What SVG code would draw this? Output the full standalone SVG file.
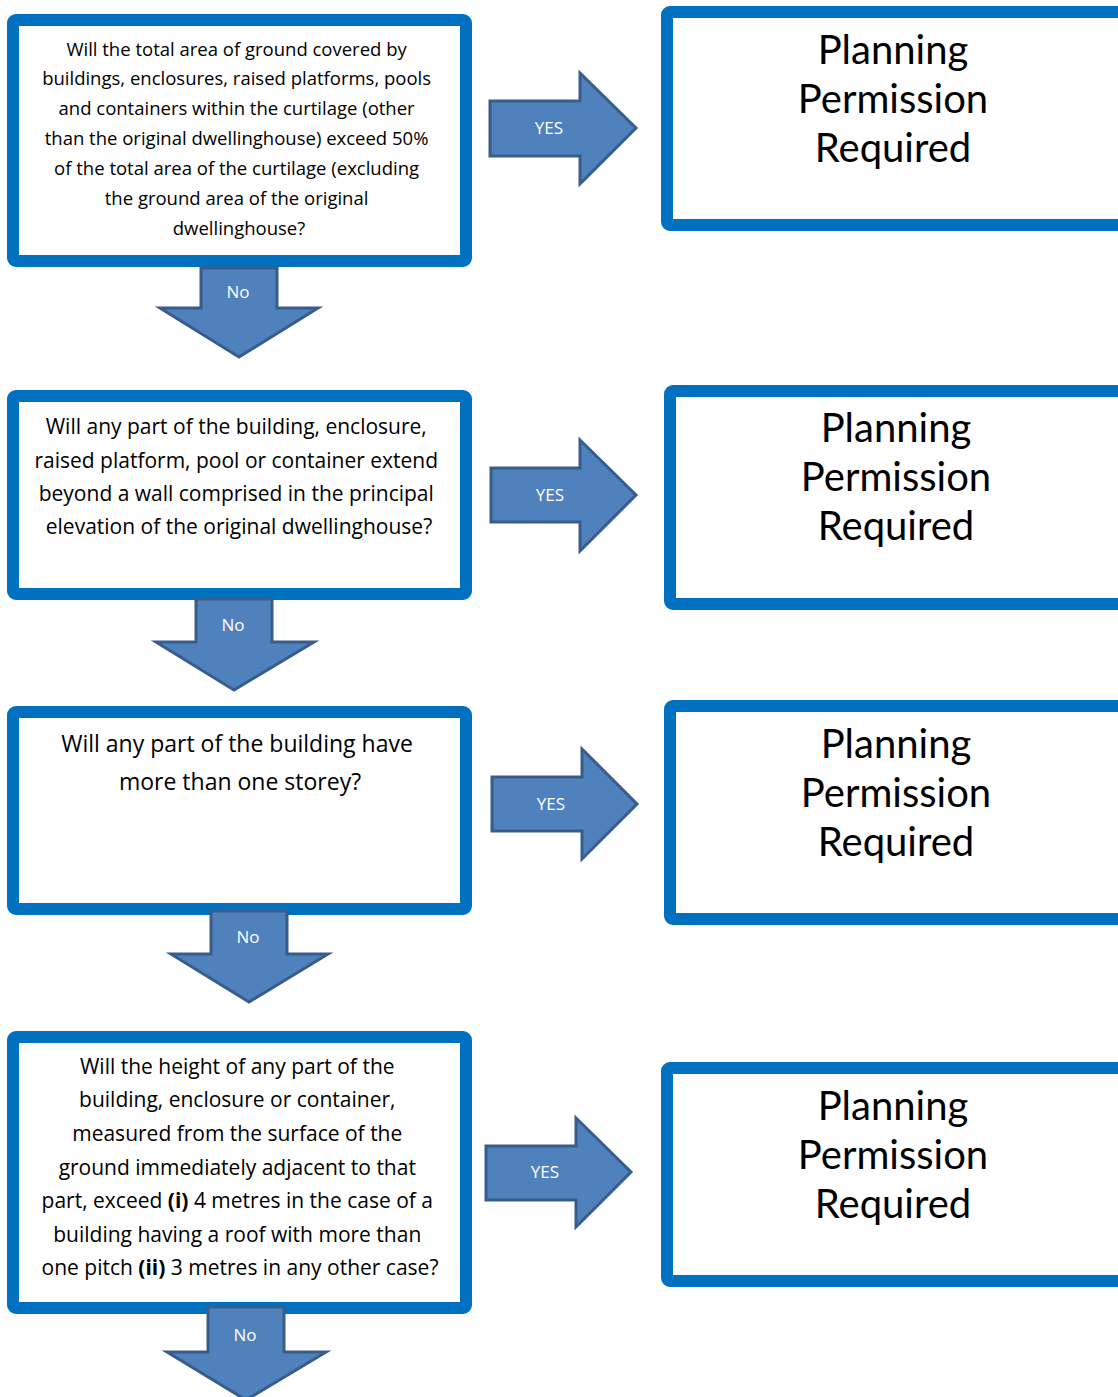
<svg xmlns="http://www.w3.org/2000/svg" width="1118" height="1397" viewBox="0 0 1118 1397">
  <style>
    .q { fill: #ffffff; stroke: #0070C0; stroke-width: 12; }
    .qt { font-family: "Open Sans", "Liberation Sans", sans-serif; fill: #000000; text-anchor: middle; }
    .rt { font-family: Lato, "Liberation Sans", sans-serif; font-size: 40px; fill: #000000; text-anchor: middle; }
    .arr { fill: #4F81BD; stroke: #385D8A; stroke-width: 3; stroke-linejoin: miter; }
    .lbl { font-family: "Open Sans", "Liberation Sans", sans-serif; font-size: 17px; fill: #ffffff; text-anchor: middle; }
    .b { font-weight: bold; }
  </style>
  <rect width="1118" height="1397" fill="#ffffff"/>

  <!-- question 1 -->
  <g id="q1">
    <rect class="q" x="13" y="20" width="453" height="241" rx="3"/>
    <text class="qt" font-size="18.5">
      <tspan x="239" y="56">Will the total area of ground covered by</tspan>
      <tspan x="239" y="85">buildings, enclosures, raised platforms, pools</tspan>
      <tspan x="239" y="115">and containers within the curtilage (other</tspan>
      <tspan x="239" y="145">than the original dwellinghouse) exceed 50%</tspan>
      <tspan x="239" y="175">of the total area of the curtilage (excluding</tspan>
      <tspan x="239" y="205">the ground area of the original</tspan>
      <tspan x="239" y="235">dwellinghouse?</tspan>
    </text>
  </g>
  <g id="r1">
    <rect class="q" x="667" y="12" width="460" height="213" rx="3"/>
    <text class="rt"><tspan x="893" y="64">Planning</tspan><tspan x="893" y="113">Permission</tspan><tspan x="893" y="162">Required</tspan></text>
  </g>

  <!-- question 2 -->
  <g id="q2">
    <rect class="q" x="13" y="396" width="453" height="198" rx="3"/>
    <text class="qt" font-size="21">
      <tspan x="239" y="434">Will any part of the building, enclosure,</tspan>
      <tspan x="239" y="468">raised platform, pool or container extend</tspan>
      <tspan x="239" y="501">beyond a wall comprised in the principal</tspan>
      <tspan x="239" y="534">elevation of the original dwellinghouse?</tspan>
    </text>
  </g>
  <g id="r2">
    <rect class="q" x="670" y="391" width="460" height="213" rx="3"/>
    <text class="rt"><tspan x="896" y="442">Planning</tspan><tspan x="896" y="491">Permission</tspan><tspan x="896" y="540">Required</tspan></text>
  </g>

  <!-- question 3 -->
  <g id="q3">
    <rect class="q" x="13" y="712" width="453" height="197" rx="3"/>
    <text class="qt" font-size="23">
      <tspan x="240" y="752">Will any part of the building have</tspan>
      <tspan x="240" y="790">more than one storey?</tspan>
    </text>
  </g>
  <g id="r3">
    <rect class="q" x="670" y="706" width="460" height="213" rx="3"/>
    <text class="rt"><tspan x="896" y="758">Planning</tspan><tspan x="896" y="807">Permission</tspan><tspan x="896" y="856">Required</tspan></text>
  </g>

  <!-- question 4 -->
  <g id="q4">
    <rect class="q" x="13" y="1037" width="453" height="271" rx="3"/>
    <text class="qt" font-size="21">
      <tspan x="240" y="1074">Will the height of any part of the</tspan>
      <tspan x="240" y="1107">building, enclosure or container,</tspan>
      <tspan x="240" y="1141">measured from the surface of the</tspan>
      <tspan x="240" y="1175">ground immediately adjacent to that</tspan>
      <tspan x="240" y="1208">part, exceed <tspan class="b">(i)</tspan> 4 metres in the case of a</tspan>
      <tspan x="240" y="1242">building having a roof with more than</tspan>
      <tspan x="240" y="1275">one pitch <tspan class="b">(ii)</tspan> 3 metres in any other case?</tspan>
    </text>
  </g>
  <g id="r4">
    <rect class="q" x="667" y="1068" width="460" height="213" rx="3"/>
    <text class="rt"><tspan x="893" y="1120">Planning</tspan><tspan x="893" y="1169">Permission</tspan><tspan x="893" y="1218">Required</tspan></text>
  </g>

  <!-- block arrows: YES to the right, No downward -->
  <g id="connectors">
    <path class="arr" d="M490,101 H580 V73 L636,128 L580,184 V156 H490 Z"/>
    <text class="lbl" x="549" y="134">YES</text>
    <path class="arr" d="M201,268 H277 V308 H318 L239,357 L160,308 H201 Z"/>
    <text class="lbl" x="238" y="298">No</text>

    <path class="arr" d="M491,468 H580 V440 L636,495 L580,551 V522 H491 Z"/>
    <text class="lbl" x="550" y="501">YES</text>
    <path class="arr" d="M196,599 H272 V642 H314 L234,690 L156,642 H196 Z"/>
    <text class="lbl" x="233" y="631">No</text>

    <path class="arr" d="M492,777 H582 V749 L637,804 L582,859 V831 H492 Z"/>
    <text class="lbl" x="551" y="810">YES</text>
    <path class="arr" d="M211,911 H287 V954 H328 L249,1002 L171,954 H211 Z"/>
    <text class="lbl" x="248" y="943">No</text>

    <path class="arr" d="M486,1146 H576 V1118 L631,1172 L576,1227 V1200 H486 Z"/>
    <text class="lbl" x="545" y="1178">YES</text>
    <path class="arr" d="M208,1307 H284 V1352 H326 L246,1400 L167,1352 H208 Z"/>
    <text class="lbl" x="245" y="1341">No</text>
  </g>
</svg>
